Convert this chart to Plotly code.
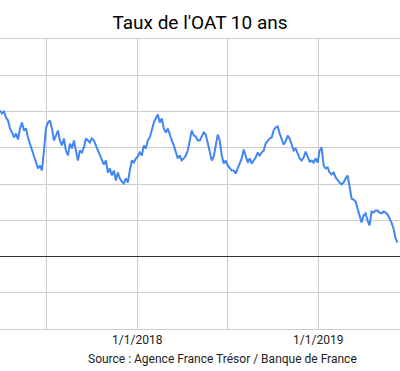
import pandas as pd
import plotly.graph_objects as go

title = "Taux de l'OAT 10 ans"
source = "Source : Agence France Trésor / Banque de France"
start_date = "2017-03-30"
end_date = "2019-06-10"

yields = [
    1.007, 0.986, 1.000, 0.959, 0.938, 0.883, 0.855, 0.821, 0.848, 0.807,
    0.883, 0.924, 0.869, 0.883, 0.821, 0.779, 0.745, 0.697, 0.662, 0.607,
    0.628, 0.593, 0.731, 0.883, 0.924, 0.938, 0.883, 0.800, 0.834, 0.869,
    0.800, 0.766, 0.814, 0.731, 0.697, 0.779, 0.745, 0.800, 0.731, 0.662,
    0.731, 0.717, 0.752, 0.814, 0.800, 0.786, 0.814, 0.800, 0.766, 0.731,
    0.710, 0.662, 0.634, 0.662, 0.579, 0.607, 0.559, 0.593, 0.524, 0.579,
    0.538, 0.517, 0.503, 0.538, 0.510, 0.593, 0.662, 0.648, 0.676, 0.690,
    0.717, 0.697, 0.766, 0.745, 0.800, 0.821, 0.883, 0.924, 0.952, 0.979,
    0.924, 0.952, 0.883, 0.855, 0.883, 0.834, 0.800, 0.766, 0.724, 0.676,
    0.697, 0.662, 0.676, 0.697, 0.731, 0.814, 0.869, 0.834, 0.828, 0.800,
    0.800, 0.828, 0.855, 0.841, 0.786, 0.731, 0.662, 0.690, 0.759, 0.841,
    0.800, 0.697, 0.641, 0.662, 0.628, 0.614, 0.593, 0.593, 0.572, 0.607,
    0.648, 0.676, 0.738, 0.697, 0.648, 0.676, 0.641, 0.662, 0.683, 0.717,
    0.697, 0.717, 0.731, 0.779, 0.800, 0.814, 0.821, 0.869, 0.890, 0.897,
    0.848, 0.814, 0.772, 0.793, 0.834, 0.814, 0.772, 0.731, 0.745, 0.703,
    0.676, 0.662, 0.683, 0.724, 0.683, 0.655, 0.662, 0.648, 0.676, 0.648,
    0.731, 0.752, 0.628, 0.607, 0.614, 0.579, 0.566, 0.579, 0.545, 0.524,
    0.510, 0.497, 0.510, 0.538, 0.559, 0.483, 0.400, 0.393, 0.379, 0.331,
    0.290, 0.234, 0.283, 0.297, 0.248, 0.214, 0.310, 0.303, 0.317, 0.317,
    0.303, 0.297, 0.310, 0.303, 0.290, 0.262, 0.234, 0.193, 0.124, 0.097,
]
dates = pd.date_range(start=start_date, end=end_date, periods=len(yields))

tick_dates = ["2017-07-01", "2018-01-01", "2018-07-01", "2019-01-01"]
tick_labels = ["", "1/1/2018", "", "1/1/2019"]

fig = go.Figure()
fig.add_trace(go.Scatter(
    x=dates, y=yields, mode="lines",
    line=dict(color="#4285F4", width=2),
    hoverinfo="x+y", showlegend=False,
))

fig.update_layout(
    width=400, height=371,
    margin=dict(l=0, r=0, t=39, b=42),
    paper_bgcolor="white", plot_bgcolor="white",
    font=dict(family="Roboto, Arial, sans-serif", size=12, color="#222222"),
    title=dict(text=title, x=0.5, xanchor="center", y=1 - 22 / 371, yanchor="middle",
               font=dict(size=19, color="#000000")),
    xaxis=dict(
        range=["2017-03-30", "2019-06-15"],
        tickvals=tick_dates, ticktext=tick_labels,
        showgrid=True, gridcolor="#cccccc", gridwidth=1,
        zeroline=False, showline=True, linecolor="#cccccc", linewidth=1, mirror=True,
        ticks="", tickfont=dict(size=12, color="#222222"),
    ),
    yaxis=dict(
        range=[-0.5, 1.5], dtick=0.25, tick0=0,
        showgrid=True, gridcolor="#cccccc", gridwidth=1,
        zeroline=True, zerolinecolor="#333333", zerolinewidth=1,
        showticklabels=False, ticks="", showline=False,
    ),
    annotations=[dict(
        text=source, xref="paper", yref="paper", x=0.555, y=-0.103,
        xanchor="center", yanchor="middle", showarrow=False,
        font=dict(size=12, color="#222222"),
    )],
)

fig.write_html(
    "out.html",
    config={"displayModeBar": False},
    post_script="document.body.style.margin='0';document.body.style.overflow='hidden';",
)
